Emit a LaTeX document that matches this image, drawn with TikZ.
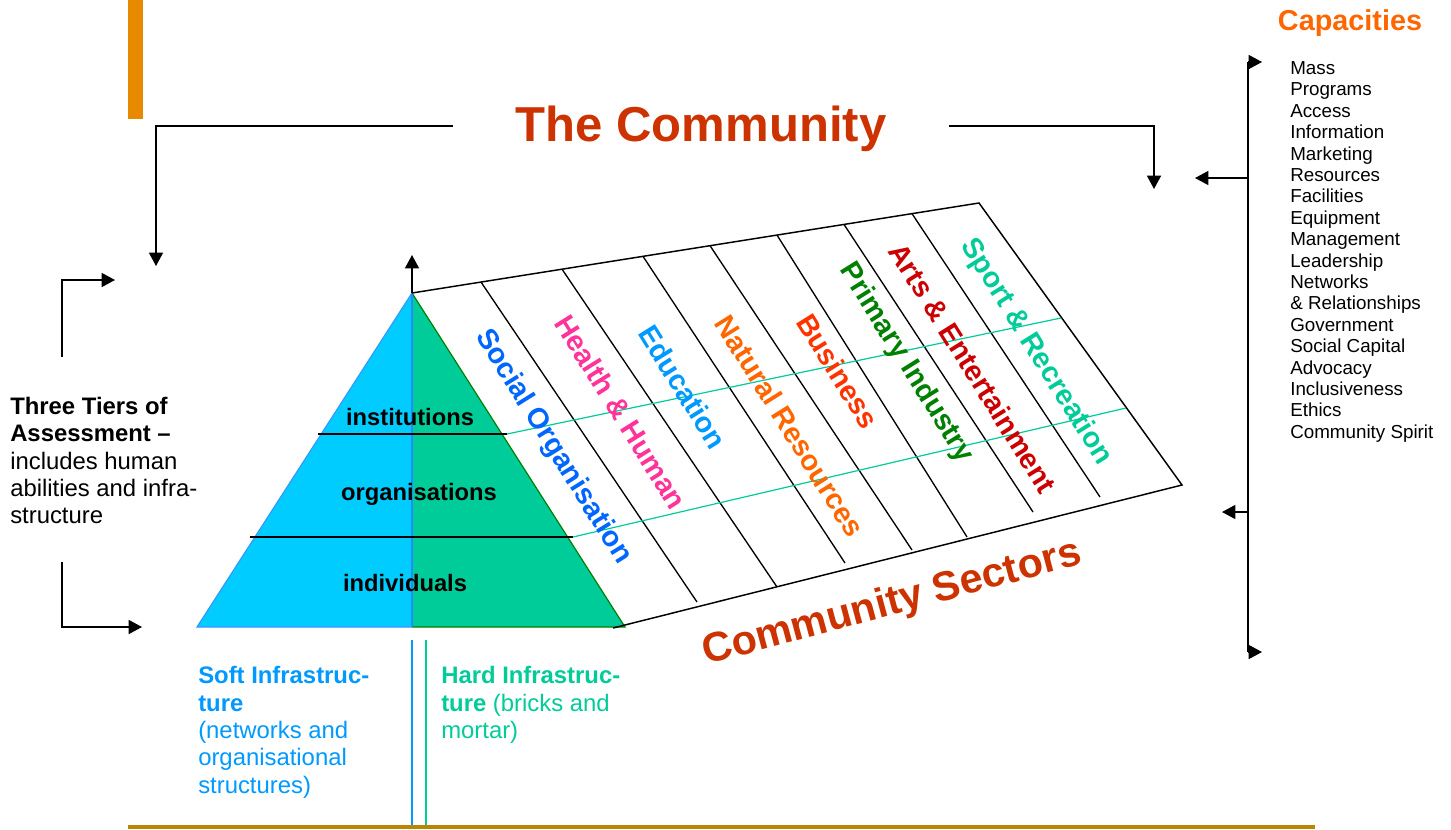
\documentclass[tikz,border=0pt]{standalone}
\usepackage{fontspec}
\setmainfont{Liberation Sans}
\usetikzlibrary{arrows.meta,calc}

\definecolor{barorange}{HTML}{E88A00}
\definecolor{titlered}{HTML}{CC3300}
\definecolor{caporange}{HTML}{FF6600}
\definecolor{softfill}{HTML}{00CCFF}
\definecolor{hardfill}{HTML}{00CC99}
\definecolor{softblue}{HTML}{0099FF}
\definecolor{hardgreen}{HTML}{00CC99}
\definecolor{edgeblue}{HTML}{3399FF}
\definecolor{edgegreen}{HTML}{008000}
\definecolor{socialc}{HTML}{0066FF}
\definecolor{healthc}{HTML}{FF3399}
\definecolor{educc}{HTML}{0099FF}
\definecolor{naturec}{HTML}{FF6600}
\definecolor{businessc}{HTML}{FF3300}
\definecolor{primaryc}{HTML}{008000}
\definecolor{artsc}{HTML}{CC0000}
\definecolor{sportc}{HTML}{00CC99}
\definecolor{ruleolive}{HTML}{B88600}

\tikzset{
  arr/.style={-{Triangle[length=10pt,width=10.5pt]}, line width=1.1pt},
  edge/.style={line width=1.1pt},
  sector/.style={font=\bfseries\fontsize{21.6}{24}\selectfont, rotate=-58, inner sep=0pt},
  tier/.style={font=\bfseries\fontsize{17.8}{20}\selectfont, inner sep=0pt},
  tierline/.style={hardgreen, line width=0.9pt},
}

\begin{document}
\begin{tikzpicture}[x=0.75pt,y=-0.75pt]
\useasboundingbox (0,0) rectangle (1451,829);

% Orange bar
\fill[barorange] (128,0) rectangle (143,119);

% Title with its two arrows
\node[font=\bfseries\fontsize{36.8}{44}\selectfont, text=titlered, inner xsep=47pt, text depth=3pt] (title) at (701,126) {The Community};
\coordinate (toLeft) at (156,266);
\coordinate (toRight) at (1154,189);
\draw[arr] (title.west) -| (toLeft);
\draw[arr] (title.east) -| (toRight);

% Capacities
\node[font=\bfseries\fontsize{21.6}{26}\selectfont, text=caporange] (caphead) at (1350,23) {Capacities};
\foreach \cap [count=\i from 0] in {Mass,Programs,Access,Information,Marketing,Resources,Facilities,Equipment,Management,Leadership,Networks,{\& Relationships},Government,Social Capital,Advocacy,Inclusiveness,Ethics,Community Spirit}
  \node[anchor=base west, inner sep=0pt, font=\fontsize{14.1}{16}\selectfont] (cap\i) at (1290,{74.5+21.4*\i}) {\cap};

\coordinate (spineN) at (1248,62);
\coordinate (spineS) at (1248,652);
\coordinate (capN) at (1262,62);
\coordinate (capS) at (1262,652);
\coordinate (capA) at (1195,178);
\coordinate (capB) at (1222,512);
\draw[edge] (spineN) -- (spineS);
\draw[arr] (spineN) -- (capN);
\draw[arr] (spineS) -- (capS);
\draw[arr] (spineN |- capA) -- (capA);
\draw[arr] (spineN |- capB) -- (capB);

% Three tiers
\node[anchor=north west, align=left, inner sep=0pt, font=\fontsize{17.9}{20.5}\selectfont] (tiers) at (10,397)
  {\textbf{Three Tiers of}\\\textbf{Assessment –}\\includes human\\abilities and infra-\\structure};
\coordinate (tierUpFoot) at (62,357);
\coordinate (tierUp) at (115,280);
\coordinate (tierDnFoot) at (62,562);
\coordinate (tierDn) at (142,627);
\draw[arr] (tierUpFoot) |- (tierUp);
\draw[arr] (tierDnFoot) |- (tierDn);

% Pyramid
\coordinate (apex) at (412,293);
\coordinate (baseL) at (197,627);
\coordinate (baseM) at (412,627);
\coordinate (baseR) at (625,627);
\fill[softfill] (apex) -- (baseL) -- (baseM) -- cycle;
\fill[hardfill] (apex) -- (baseM) -- (baseR) -- cycle;
\draw[edgeblue, line width=0.9pt] (baseM) -- (baseL) -- (apex);
\draw[edgegreen, line width=0.9pt] (apex) -- (baseR) -- (baseM);
\draw[edgeblue!70!socialc, line width=0.8pt] (apex) -- (baseM);
\coordinate (apexUp) at (412,255);
\draw[arr] (apex) -- (apexUp);

% Sector board
\coordinate (boardNE) at (979,203);
\coordinate (boardSE) at (1182,485);
\coordinate (boardSW) at (613,628);
\draw[edge] (apex) -- (boardNE) -- (boardSE) -- (boardSW);
\foreach \t/\xb/\yb in {0.1217/697/602, 0.2646/777/587, 0.4074/845/563, 0.5256/912/550,
                        0.6437/967/537, 0.7619/1033/512, 0.8818/1100/497}
  \draw[line width=1pt] ($(apex)!\t!(boardNE)$) -- (\xb,\yb);

% Tier lines
\draw[line width=1pt] (318,434) -- (507,434);
\draw[tierline] (507,434) -- (1061,318);
\draw[line width=1pt] (250,537) -- (573,537);
\draw[tierline] (573,537) -- (1126,408);

\node[tier] (inst) at (410,417) {institutions};
\node[tier] (orgs) at (419,494) {organisations};
\node[tier] (indiv) at (405,583) {individuals};

% Sector labels
\node[sector, text=socialc] (social) at (553,447) {Social Organisation};
\node[sector, text=healthc] (health) at (621,412) {Health \& Human};
\node[sector, text=educc] (educ) at (683,387) {Education};
\node[sector, text=naturec] (nature) at (790,426) {Natural Resources};
\node[sector, text=businessc] (business) at (838,371) {Business};
\node[sector, text=primaryc] (primary) at (906,363) {Primary Industry};
\node[sector, text=artsc] (arts) at (973,368) {Arts \& Entertainment};
\node[sector, text=sportc] (sport) at (1036,352) {Sport \& Recreation};

\node[font=\bfseries\fontsize{31}{36}\selectfont, text=titlered, rotate=15, inner sep=0pt] (sectors) at (892,604) {Community Sectors};

% Soft and hard infrastructure
\draw[softblue, line width=1pt] (412,640) -- (412,829);
\draw[hardgreen, line width=1pt] (426,640) -- (426,829);
\node[anchor=north west, align=left, inner sep=0pt, text=softblue, font=\fontsize{17.9}{20.6}\selectfont] (soft) at (198,666)
  {\textbf{Soft Infrastruc-}\\\textbf{ture}\\(networks and\\organisational\\structures)};
\node[anchor=north west, align=left, inner sep=0pt, text=hardgreen, font=\fontsize{17.9}{20.6}\selectfont] (hard) at (441,666)
  {\textbf{Hard Infrastruc-}\\\textbf{ture} (bricks and\\mortar)};

% Bottom rule
\draw[ruleolive, line width=3pt] (128,827) -- (1315,827);
\end{tikzpicture}
\end{document}
